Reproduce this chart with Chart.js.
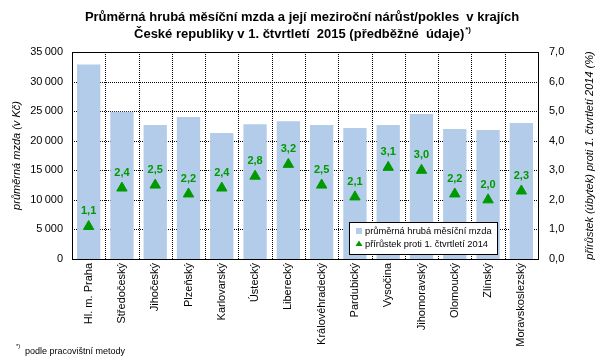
<!DOCTYPE html>
<html>
<head>
<meta charset="utf-8">
<script src="https://cdn.jsdelivr.net/npm/chart.js@4.4.0/dist/chart.umd.min.js"></script>
<style>
html, body { margin: 0; padding: 0; background: #fff; }
#wrap { width: 601px; height: 364px; position: relative; }
</style>
</head>
<body>
<div id="wrap"><canvas id="chart"></canvas></div>
<script>
var regions = ["Hl. m. Praha", "Středočeský", "Jihočeský", "Plzeňský", "Karlovarský", "Ústecký", "Liberecký",
    "Královéhradecký", "Pardubický", "Vysočina", "Jihomoravský", "Olomoucký", "Zlínský", "Moravskoslezský"];
var wages = [32900, 24900, 22650, 24000, 21300, 22800, 23300, 22650, 22150, 22650, 24500, 22000, 21800, 23000];
var growth = [1.1, 2.4, 2.5, 2.2, 2.4, 2.8, 3.2, 2.5, 2.1, 3.1, 3.0, 2.2, 2.0, 2.3];

var titleLines = ["Průměrná hrubá měsíční mzda a její meziroční nárůst/pokles  v krajích",
    "České republiky v 1. čtvrtletí  2015 (předběžné  údaje)"];
var leftTitle = "průměrná mzda (v Kč)";
var rightTitle = "přírůstek (úbytek) proti 1. čtvrtletí 2014 (%)";
var footnote = "podle pracovištní metody";

var FONT = "'Liberation Sans', Arial, sans-serif";
var barColor = "#b2cce9";
var green = "#009a00";

function pct(v) { return Number(v).toFixed(1).replace(".", ","); }
function thousands(v) { return String(v).replace(/\B(?=(\d{3})+(?!\d))/g, "\u2009"); }

// dotted grid, drawn from the scales before the bars
var dottedGrid = {
    id: "dottedGrid",
    beforeDatasetsDraw: function(chart) {
        var ctx = chart.ctx;
        var a = chart.chartArea;
        var xs = chart.scales.x, ys = chart.scales.y;
        var l = Math.round(a.left), r = Math.round(a.right);
        var t = Math.round(a.top), b = Math.round(a.bottom);
        ctx.save();
        ctx.strokeStyle = "#000";
        ctx.lineWidth = 1;
        ctx.setLineDash([1, 1]);
        ctx.beginPath();
        ys.ticks.forEach(function(tk) {
            var py = Math.round(ys.getPixelForValue(tk.value));
            if (py <= t || py >= b) return;
            ctx.moveTo(l, py + 0.5);
            ctx.lineTo(r, py + 0.5);
        });
        for (var i = 1; i < regions.length; i++) {
            var px = Math.round((xs.getPixelForValue(i - 1) + xs.getPixelForValue(i)) / 2);
            ctx.moveTo(px + 0.5, t);
            ctx.lineTo(px + 0.5, b);
        }
        ctx.stroke();
        ctx.restore();
    }
};

// value labels above the triangles
var valueLabels = {
    id: "valueLabels",
    afterDatasetsDraw: function(chart) {
        var ctx = chart.ctx;
        var meta = chart.getDatasetMeta(1);
        ctx.save();
        ctx.font = "bold 11px " + FONT;
        ctx.fillStyle = green;
        ctx.textAlign = "center";
        ctx.textBaseline = "alphabetic";
        meta.data.forEach(function(pt, i) {
            ctx.fillText(pct(growth[i]), pt.x, pt.y - 12);
        });
        ctx.restore();
    }
};

// title, frame, legend, right axis title, footnote
var decor = {
    id: "decor",
    afterDraw: function(chart) {
        var ctx = chart.ctx;
        var a = chart.chartArea;
        ctx.save();

        // frame
        ctx.strokeStyle = "#000";
        ctx.lineWidth = 1;
        ctx.strokeRect(Math.round(a.left) + 0.5, Math.round(a.top) + 0.5,
            Math.round(a.right - a.left), Math.round(a.bottom - a.top));

        // title
        ctx.fillStyle = "#000";
        ctx.font = "bold 13px " + FONT;
        ctx.textBaseline = "middle";
        ctx.textAlign = "center";
        ctx.fillText(titleLines[0], 302, 17);
        var w2 = ctx.measureText(titleLines[1]).width;
        ctx.font = "bold 8px " + FONT;
        var ws = ctx.measureText("*)").width;
        var x0 = 302 - (w2 + ws) / 2;
        ctx.textAlign = "left";
        ctx.font = "bold 13px " + FONT;
        ctx.fillText(titleLines[1], x0, 34);
        ctx.font = "bold 8px " + FONT;
        ctx.fillText("*)", x0 + w2 + 1, 30);

        // right axis title
        ctx.save();
        ctx.translate(590, (a.top + a.bottom) / 2);
        ctx.rotate(-Math.PI / 2);
        ctx.font = "italic 11px " + FONT;
        ctx.textAlign = "center";
        ctx.fillText(rightTitle, 0, 0);
        ctx.restore();

        // legend inside the plot
        var lx = 349, ly = 222, lw = 148, lh = 32;
        ctx.fillStyle = "#fff";
        ctx.fillRect(lx, ly, lw, lh);
        ctx.strokeStyle = "#000";
        ctx.strokeRect(lx + 0.5, ly + 0.5, lw, lh);
        ctx.fillStyle = barColor;
        ctx.fillRect(356, 228, 6, 6);
        ctx.fillStyle = green;
        ctx.beginPath();
        ctx.moveTo(359, 240.5);
        ctx.lineTo(362.5, 246);
        ctx.lineTo(355.5, 246);
        ctx.closePath();
        ctx.fill();
        ctx.fillStyle = "#000";
        ctx.font = "9.3px " + FONT;
        ctx.textAlign = "left";
        ctx.fillText(chart.data.datasets[0].label, 365, 231.5);
        ctx.fillText(chart.data.datasets[1].label, 365, 244);

        // footnote
        ctx.font = "6px " + FONT;
        ctx.fillText("*)", 16, 346);
        ctx.font = "9px " + FONT;
        ctx.fillText(footnote, 25, 352);

        ctx.restore();
    }
};

var ctx = document.getElementById("chart");

var chartData = {
    labels: regions,
    datasets: [{
        type: "bar",
        label: "průměrná hrubá měsíční mzda",
        data: wages,
        backgroundColor: barColor,
        yAxisID: "y",
        barPercentage: 0.7,
        categoryPercentage: 1.0,
        order: 2
    }, {
        type: "line",
        label: "přírůstek proti 1. čtvrtletí 2014",
        data: growth,
        yAxisID: "y1",
        showLine: false,
        pointStyle: "triangle",
        pointRadius: 6,
        pointHoverRadius: 6,
        pointBorderWidth: 1,
        backgroundColor: green,
        borderColor: green,
        order: 1
    }]
};

var chartOptions = {
    responsive: true,
    maintainAspectRatio: false,
    animation: false,
    devicePixelRatio: 1,
    layout: { padding: { top: 52, left: 0, right: 0, bottom: 0 } },
    plugins: {
        legend: { display: false },
        title: { display: false },
        tooltip: { enabled: false }
    },
    scales: {
        x: {
            grid: { display: false, drawTicks: false },
            border: { display: true, color: "#000" },
            ticks: {
                minRotation: 90, maxRotation: 90, autoSkip: false, padding: 4,
                color: "#000", font: { family: FONT, size: 11 }
            },
            afterFit: function(s) { s.height = 105; }
        },
        y: {
            position: "left",
            min: 0, max: 35000,
            grid: { display: false, drawTicks: false },
            border: { display: true, color: "#000" },
            ticks: {
                stepSize: 5000, padding: 9, color: "#000",
                font: { family: FONT, size: 11 },
                callback: function(v) { return thousands(v); }
            },
            title: {
                display: true, text: leftTitle, color: "#000",
                font: { family: FONT, size: 11, style: "italic" },
                padding: { top: 10, bottom: 0 }
            },
            afterFit: function(s) { s.width = 72; }
        },
        y1: {
            position: "right",
            min: 0, max: 7,
            grid: { display: false, drawTicks: false },
            border: { display: true, color: "#000" },
            ticks: {
                stepSize: 1, padding: 11, color: "#000",
                font: { family: FONT, size: 11 },
                callback: function(v) { return pct(v); }
            },
            afterFit: function(s) { s.width = 63; }
        }
    }
};

var config = {
    type: "bar",
    options: chartOptions,
    data: chartData,
    plugins: [dottedGrid, valueLabels, decor]
};

var wageChart = new Chart(ctx, config);
</script>
</body>
</html>
